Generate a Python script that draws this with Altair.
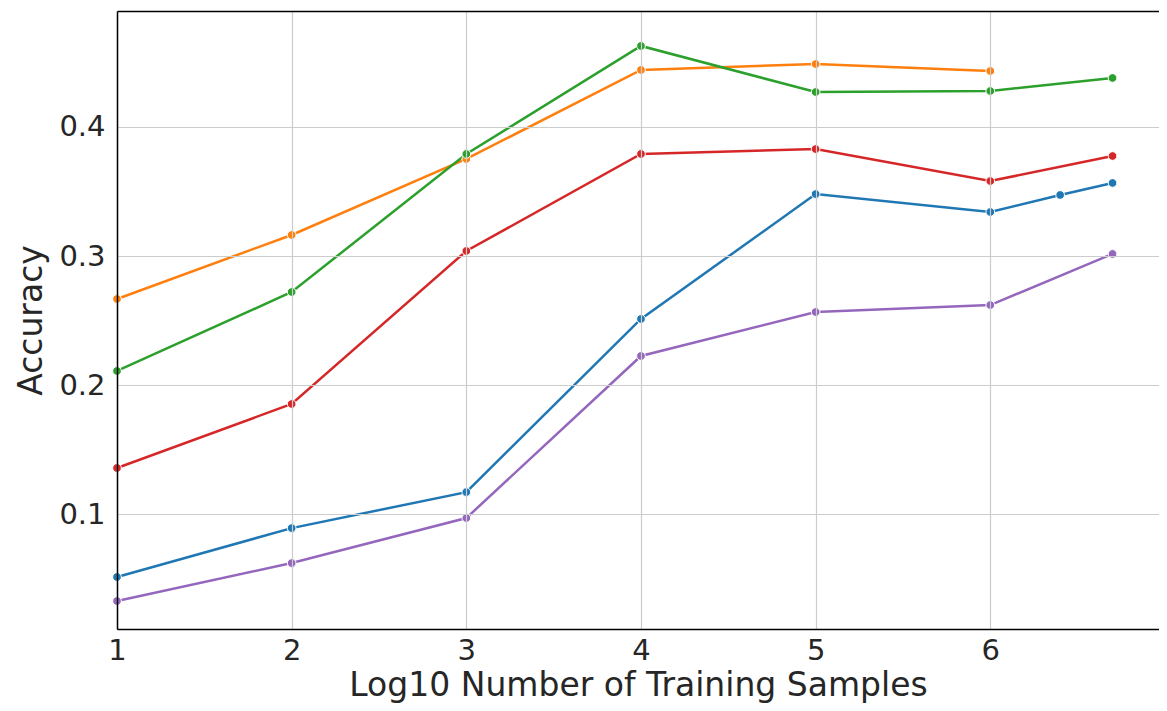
import altair as alt
import pandas as pd

x_vals = [1, 2, 3, 4, 5, 6, 6.7]
x_blue = [1, 2, 3, 4, 5, 6, 6.4, 6.7]

series_names = ["S1", "S2", "S3", "S4", "S5"]
colors = ["#1f77b4", "#ff7f0e", "#2ca02c", "#d62728", "#9467bd"]

blue = [0.0512, 0.0891, 0.117, 0.2512, 0.348, 0.3341, 0.3473, 0.3566]
orange = [0.2667, 0.3163, 0.3752, 0.4442, 0.4488, 0.4434]
green = [0.2109, 0.2721, 0.3791, 0.4628, 0.4271, 0.4279, 0.438]
red = [0.1357, 0.1853, 0.3039, 0.3791, 0.3829, 0.3581, 0.3775]
purple = [0.0326, 0.062, 0.0969, 0.2225, 0.2566, 0.262, 0.3016]

rows = []
for name, xs, ys in [
    ("S1", x_blue, blue),
    ("S2", x_vals[:6], orange),
    ("S3", x_vals, green),
    ("S4", x_vals, red),
    ("S5", x_vals, purple),
]:
    for i, (xv, yv) in enumerate(zip(xs, ys)):
        rows.append({"series": name, "x": xv, "y": yv, "order": i})
df = pd.DataFrame(rows)

FONT = "DejaVu Sans"

common_axis = dict(
    labelFontSize=29,
    titleFontSize=33,
    ticks=False,
    domain=True,
    domainColor="black",
    domainWidth=1.5,
    gridColor="#cccccc",
    gridWidth=1.2,
    labelColor="#262626",
    titleColor="#262626",
    labelFont=FONT,
    titleFont=FONT,
    titleFontWeight="normal",
    zindex=1,
)

x_scale = alt.Scale(domain=[1, 6.966], nice=False, zero=False)
y_scale = alt.Scale(domain=[0.0109, 0.4899], nice=False, zero=False)

x_enc = alt.X(
    "x:Q",
    scale=x_scale,
    axis=alt.Axis(
        title="Log10 Number of Training Samples",
        values=[1, 2, 3, 4, 5, 6],
        format="d",
        labelPadding=7,
        titlePadding=4,
        labelFlush=False,
        **common_axis,
    ),
)
x_top = alt.X(
    "x:Q",
    scale=x_scale,
    axis=alt.Axis(
        orient="top",
        title=None,
        labels=False,
        ticks=False,
        grid=False,
        domain=True,
        domainColor="black",
        domainWidth=1.5,
        zindex=1,
    ),
)
y_enc = alt.Y(
    "y:Q",
    scale=y_scale,
    axis=alt.Axis(
        title="Accuracy",
        values=[0.1, 0.2, 0.3, 0.4],
        format=".1f",
        labelPadding=12,
        titlePadding=10,
        labelFlush=False,
        **common_axis,
    ),
)
color_enc = alt.Color(
    "series:N",
    scale=alt.Scale(domain=series_names, range=colors),
    legend=None,
)

lines = alt.Chart(df).mark_line(strokeWidth=2.5).encode(
    x=x_enc, y=y_enc, color=color_enc, order="order:Q"
)
points = alt.Chart(df).mark_point(
    filled=True, size=75, opacity=1, stroke="white", strokeWidth=1
).encode(x=x_top, y=y_enc, color=color_enc)

chart = (
    alt.layer(lines, points)
    .resolve_axis(x="independent")
    .properties(
        width=1042,
        height=618,
        autosize=alt.AutoSizeParams(type="none"),
        padding={"left": 109, "top": 3, "right": 0, "bottom": 74},
    )
    .configure_view(strokeWidth=0)
    .configure(background="white")
)

chart.save("out.html", embed_options={"renderer": "svg", "actions": False})
